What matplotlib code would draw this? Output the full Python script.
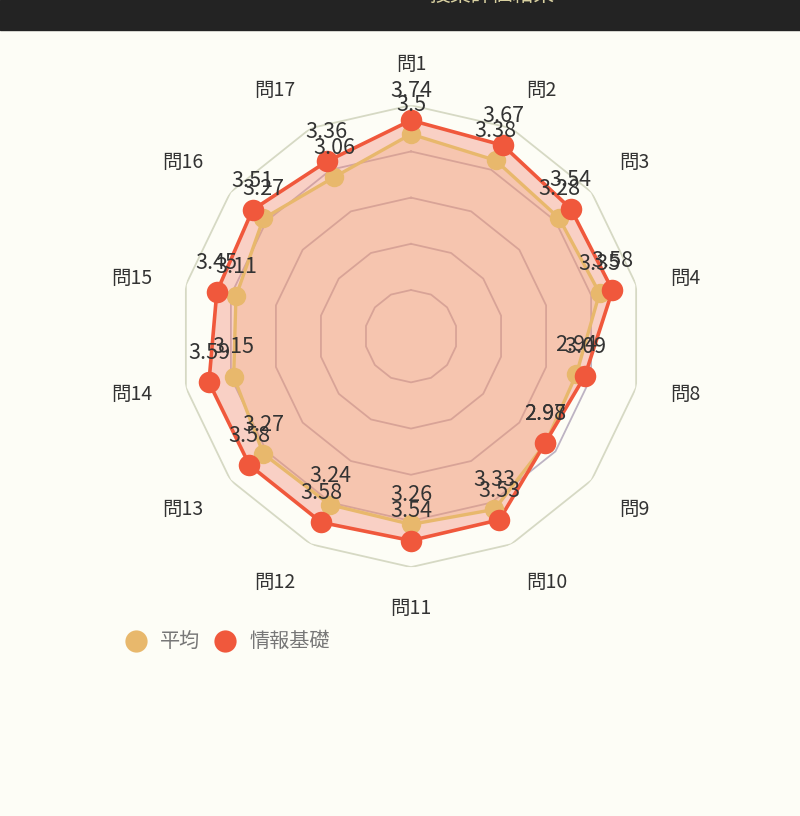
import numpy as np
import matplotlib.pyplot as plt
from matplotlib.lines import Line2D

plt.rcParams['font.family'] = ['Noto Sans CJK JP', 'DejaVu Sans']

# data
labels = ['問1', '問2', '問3', '問4', '問8', '問9', '問10', '問11',
          '問12', '問13', '問14', '問15', '問16', '問17']
heikin = [3.5, 3.38, 3.28, 3.35, 2.94, 2.98, 3.33, 3.26,
          3.24, 3.27, 3.15, 3.11, 3.27, 3.06]
joho = [3.74, 3.67, 3.54, 3.58, 3.09, 2.97, 3.53, 3.54,
        3.58, 3.58, 3.59, 3.45, 3.51, 3.36]
rings = [0.8, 1.6, 2.4, 3.2, 4.0]
series_names = ['平均', '情報基礎']

bg = '#fdfdf6'
tan = '#e8b86c'
red = '#f0583c'

fig = plt.figure(figsize=(8, 8.16), dpi=100, facecolor=bg)

# dark header bar, title mostly cut off
fig.patches.append(plt.Rectangle((0, 1 - 30 / 816), 1, 30 / 816,
                                 transform=fig.transFigure, color='#232323'))
fig.text(0.615, 1 - 6 / 816, '授業評価結果', color='#d8d0a0', fontsize=15,
         ha='center', va='bottom')

ax = fig.add_axes([0.225, 0.305, 0.5775, 0.566], projection='polar')
ax.set_facecolor('none')
ax.set_theta_zero_location('N')
ax.set_theta_direction(-1)
ax.set_ylim(0, 4.0)
ax.grid(False)
ax.spines['polar'].set_visible(False)
ax.set_xticks([])
ax.set_yticks([])

n = len(labels)
theta = np.linspace(0, 2 * np.pi, n, endpoint=False)
tc = np.append(theta, theta[0])

# polygon grid
for r in rings:
    col = '#d6d9c4' if r == rings[-1] else '#bdb3c3'
    ax.plot(tc, [r] * (n + 1), color=col, lw=1.3, zorder=1)

h = np.append(heikin, heikin[0])
j = np.append(joho, joho[0])
ax.fill(tc, h, color=tan, alpha=0.25, lw=0, zorder=2)
ax.fill(tc, j, color='#f58975', alpha=0.38, lw=0, zorder=2)
ax.plot(tc, h, color=tan, lw=2.4, zorder=3)
ax.plot(tc, j, color=red, lw=2.6, zorder=4)
ax.plot(theta, heikin, 'o', color=tan, ms=14, mec='none', zorder=5)
ax.plot(theta, joho, 'o', color=red, ms=15.5, mec='none', zorder=6)

for vals in (heikin, joho):
    for t, v in zip(theta, vals):
        ax.annotate(f'{v:g}', xy=(t, v), xytext=(0, 21), textcoords='offset points',
                    ha='center', va='center', fontsize=15.5, color='#333333',
                    zorder=7, annotation_clip=False)

# category labels
for t, lab in zip(theta, labels):
    s, c = np.sin(t), np.cos(t)
    ha = 'center' if abs(s) < 0.1 else ('left' if s > 0 else 'right')
    va = 'bottom' if c > 0.3 else ('top' if c < -0.3 else 'center')
    ax.annotate(lab, xy=(t, 4.0), xytext=(s * 25, c * 22), textcoords='offset points',
                ha=ha, va=va, fontsize=14, color='#333333', annotation_clip=False)

# legend
ly = 1 - 641 / 816
fig.add_artist(Line2D([136 / 800], [ly], marker='o', ms=16, color=tan, mec='none',
                      transform=fig.transFigure))
fig.text(160 / 800, ly, series_names[0], fontsize=14.5, color='#777777', va='center')
fig.add_artist(Line2D([225 / 800], [ly], marker='o', ms=16, color=red, mec='none',
                      transform=fig.transFigure))
fig.text(250 / 800, ly, series_names[1], fontsize=14.5, color='#777777', va='center')

fig.savefig('out.png', dpi=100, facecolor=bg)
